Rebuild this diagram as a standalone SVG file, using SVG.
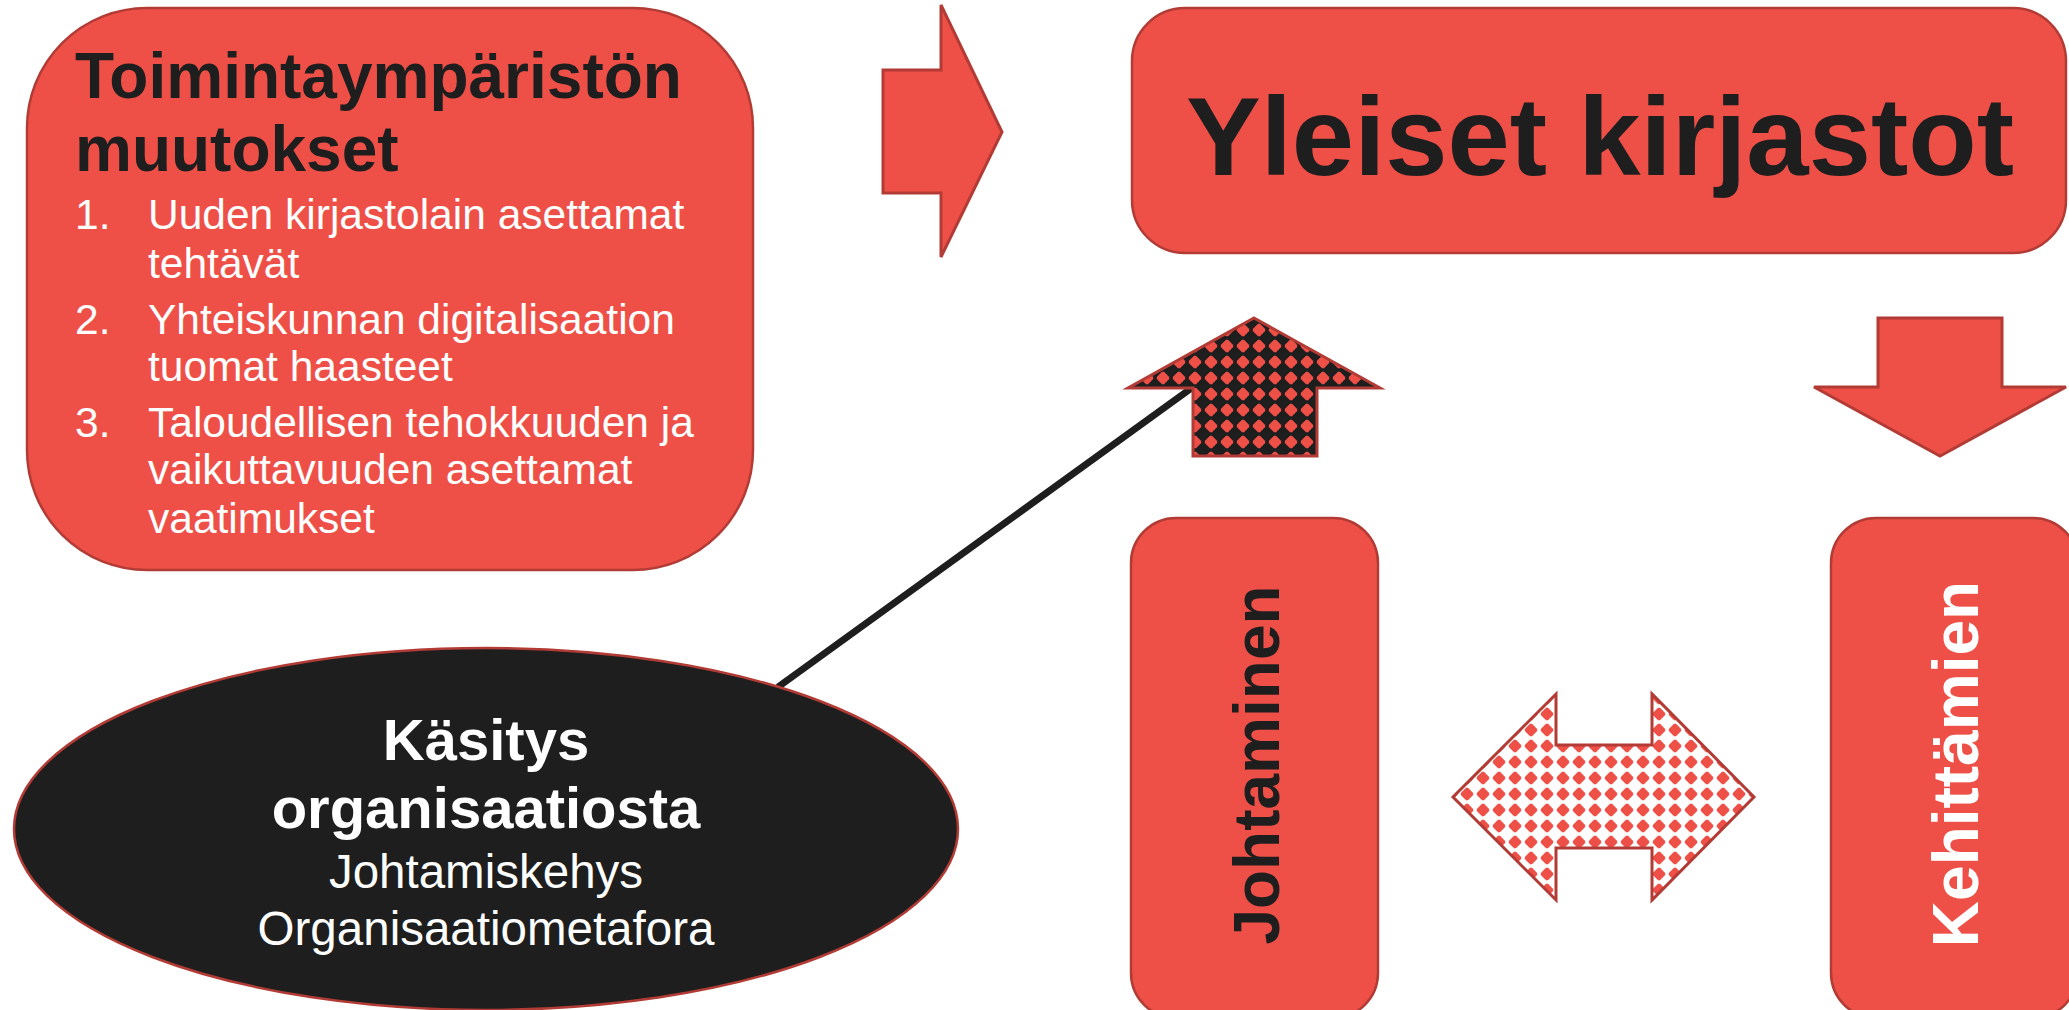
<svg xmlns="http://www.w3.org/2000/svg" width="2069" height="1010" viewBox="0 0 2069 1010">
<style>
.box{fill:#EE5048;stroke:#B23C35;stroke-width:2.5}
.arr{fill:#EE5048;stroke:#B23C35;stroke-width:3}
.hb{font-family:"Liberation Sans",Arial,sans-serif;font-weight:bold}
.hr{font-family:"Liberation Sans",Arial,sans-serif}
</style>
<defs>
<pattern id="pDark" x="3" y="2" width="16" height="16" patternUnits="userSpaceOnUse">
<rect width="16" height="16" fill="#1E1E1E"/>
<path d="M7 1.8 H9 L14.2 7 V9 L9 14.2 H7 L1.8 9 V7Z" fill="#EE5048"/>
</pattern>
<pattern id="pLight" x="3" y="2" width="16" height="16" patternUnits="userSpaceOnUse">
<rect width="16" height="16" fill="#FFFFFF"/>
<path d="M7 1.8 H9 L14.2 7 V9 L9 14.2 H7 L1.8 9 V7Z" fill="#EE5048"/>
</pattern>
</defs>
<rect width="2069" height="1010" fill="#FFFFFF"/>

<g id="connectors">
<line x1="778" y1="687" x2="1193" y2="387" stroke="#1E1E1E" stroke-width="7"/>
</g>

<g id="toimintaymparisto">
<rect class="box" x="27" y="8" width="726" height="562" rx="120" ry="120"/>
<text class="hb" font-size="64" fill="#1E1E1E"><tspan x="75" y="98">Toimintaympäristön</tspan><tspan x="75" y="171">muutokset</tspan></text>
<g class="hr" font-size="42.5" fill="#FFFFFF">
<text x="75" y="229">1.</text>
<text x="148" y="229">Uuden kirjastolain asettamat</text>
<text x="148" y="278">tehtävät</text>
<text x="75" y="334">2.</text>
<text x="148" y="334">Yhteiskunnan digitalisaation</text>
<text x="148" y="381">tuomat haasteet</text>
<text x="75" y="437">3.</text>
<text x="148" y="437">Taloudellisen tehokkuuden ja</text>
<text x="148" y="484">vaikuttavuuden asettamat</text>
<text x="148" y="533">vaatimukset</text>
</g>
</g>

<g id="arrowRight">
<polygon class="arr" points="883,70 941,70 941,5 1002,132 941,257 941,193 883,193"/>
</g>

<g id="yleiset">
<rect class="box" x="1132" y="8" width="934" height="245" rx="53" ry="53"/>
<text class="hb" font-size="112" fill="#1E1E1E" x="1600" y="175" text-anchor="middle">Yleiset kirjastot</text>
</g>

<g id="arrowUp">
<polygon points="1254,318 1380,388 1317,388 1317,456 1193,456 1193,388 1128,388" fill="url(#pDark)" stroke="#B23C35" stroke-width="3"/>
</g>

<g id="arrowDown">
<polygon class="arr" points="1878,318 2002,318 2002,387 2066,387 1940,456 1814,387 1878,387"/>
</g>

<g id="johtaminen">
<rect class="box" x="1131" y="518" width="247" height="500" rx="45" ry="45"/>
<text class="hb" font-size="64" fill="#1E1E1E" transform="translate(1279,765) rotate(-90)" text-anchor="middle">Johtaminen</text>
</g>

<g id="kehittamien">
<rect class="box" x="1831" y="518" width="247" height="500" rx="45" ry="45"/>
<text class="hb" font-size="64" fill="#FFFFFF" transform="translate(1978,764) rotate(-90)" text-anchor="middle">Kehittämien</text>
</g>

<g id="arrowBoth">
<polygon points="1453,797 1556,694 1556,745 1652,745 1652,694 1754,797 1652,900 1652,848 1556,848 1556,900" fill="url(#pLight)" stroke="#B23C35" stroke-width="3"/>
</g>

<g id="kasitys">
<ellipse cx="486" cy="829" rx="472" ry="181" fill="#1E1E1E" stroke="#B23C35" stroke-width="2.5"/>
<text class="hb" font-size="58" fill="#FFFFFF" text-anchor="middle"><tspan x="486" y="760">Käsitys</tspan><tspan x="486" y="828">organisaatiosta</tspan></text>
<text class="hr" font-size="47.5" fill="#FFFFFF" text-anchor="middle"><tspan x="486" y="888">Johtamiskehys</tspan><tspan x="486" y="945">Organisaatiometafora</tspan></text>
</g>
</svg>
